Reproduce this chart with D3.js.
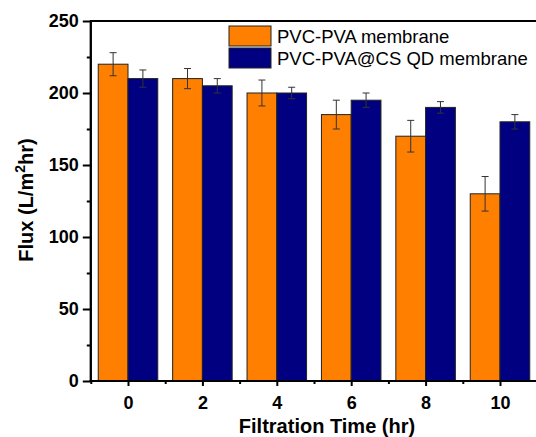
<!DOCTYPE html>
<html><head><meta charset="utf-8">
<script src="https://cdn.jsdelivr.net/npm/d3@7"></script>
<style>body{margin:0;background:#fff}svg{display:block}</style>
</head><body>
<script>
const categories = [0, 2, 4, 6, 8, 10];
const seriesNames = ["PVC-PVA membrane", "PVC-PVA@CS QD membrane"];
const pvcPva = [220, 210, 200, 185, 170, 130];
const pvcPvaErr = [8, 7, 9, 10, 11, 12];
const pvcCs = [210, 205, 200, 195, 190, 180];
const pvcCsErr = [6, 5, 4, 5, 4, 5];
const yTicks = [0, 50, 100, 150, 200, 250];
const yMinor = [25, 75, 125, 175, 225];
const xTicks = [0, 2, 4, 6, 8, 10];
const xMinor = [-1, 1, 3, 5, 7, 9];
const colors = ["#FF8000", "#000080"];

const W = 536, H = 437;
const font = "'Liberation Sans', Arial, sans-serif";
const svg = d3.select("body").append("svg").attr("width", W).attr("height", H);

const x = d3.scaleLinear().domain([-1, 11]).range([90.8, 537.2]);
const y = d3.scaleLinear().domain([0, 250]).range([381, 21]);
const barW = 0.8;

const series = [
  {vals: pvcPva, errs: pvcPvaErr, off: -barW, color: colors[0]},
  {vals: pvcCs, errs: pvcCsErr, off: 0, color: colors[1]}
];

const g = svg.append("g");
series.forEach(s => {
  g.selectAll(null).data(categories).enter().append("rect")
    .attr("x", (d) => x(d + s.off))
    .attr("width", (d) => x(d + s.off + barW) - x(d + s.off))
    .attr("y", (d, i) => y(s.vals[i]))
    .attr("height", (d, i) => y(0) - y(s.vals[i]))
    .attr("fill", s.color).attr("stroke", "#222").attr("stroke-width", 1);
});
series.forEach(s => {
  categories.forEach((c, i) => {
    const cx = x(c + s.off + barW / 2);
    const t = y(s.vals[i] + s.errs[i]), b = y(s.vals[i] - s.errs[i]);
    g.append("line").attr("x1", cx).attr("x2", cx).attr("y1", t).attr("y2", b).attr("stroke", "#333").attr("stroke-width", 1);
    [t, b].forEach(yy => g.append("line").attr("x1", cx - 3.5).attr("x2", cx + 3.5).attr("y1", yy).attr("y2", yy).attr("stroke", "#333").attr("stroke-width", 1));
  });
});

// axes
const yAxis = svg.append("g").attr("transform", `translate(${x(-1)},0)`)
  .call(d3.axisLeft(y).tickValues(yTicks).tickSize(8).tickPadding(4).tickFormat(d3.format("d")));
const yAxisMinor = svg.append("g").attr("transform", `translate(${x(-1)},0)`)
  .call(d3.axisLeft(y).tickValues(yMinor).tickSize(4).tickFormat(""));
const xAxis = svg.append("g").attr("transform", `translate(0,${y(0)})`)
  .call(d3.axisBottom(x).tickValues(xTicks).tickSize(5).tickPadding(10).tickFormat(d3.format("d")));
const xAxisMinor = svg.append("g").attr("transform", `translate(0,${y(0)})`)
  .call(d3.axisBottom(x).tickValues(xMinor).tickSize(3).tickFormat(""));
[yAxis, yAxisMinor, xAxis, xAxisMinor].forEach(a => {
  a.select(".domain").attr("stroke", "#000").attr("stroke-width", 2);
  a.selectAll(".tick line").attr("stroke", "#000").attr("stroke-width", 2);
  a.selectAll("text").attr("font-family", font).attr("font-weight", "bold").attr("font-size", "18px").attr("fill", "#000");
});
[yAxis, yAxisMinor].forEach(a => a.select(".domain").attr("d", `M0,${y(250)}V${y(0)}`));
[xAxis, xAxisMinor].forEach(a => a.select(".domain").attr("d", `M${x(-1) - 1},0H${W}`));
// top frame
svg.append("line").attr("x1", x(-1) - 1).attr("x2", W).attr("y1", y(250)).attr("y2", y(250)).attr("stroke", "#000").attr("stroke-width", 2);

// axis titles
svg.append("text").attr("x", 327).attr("y", 433).attr("text-anchor", "middle")
  .attr("font-family", font).attr("font-weight", "bold").attr("font-size", "20px").text("Filtration Time (hr)");
const yl = svg.append("text").attr("transform", "translate(33,200) rotate(-90)").attr("text-anchor", "middle")
  .attr("font-family", font).attr("font-weight", "bold").attr("font-size", "20px");
yl.append("tspan").text("Flux (L/m");
yl.append("tspan").attr("dy", -8).attr("font-size", "14px").text("2");
yl.append("tspan").attr("dy", 8).text("hr)");

// legend
const leg = svg.append("g");
seriesNames.forEach((n, i) => {
  leg.append("rect").attr("x", 229).attr("y", 26 + i * 22).attr("width", 42).attr("height", 20)
    .attr("fill", colors[i]).attr("stroke", "#222").attr("stroke-width", 1);
  leg.append("text").attr("x", 277).attr("y", 43 + i * 21.5).attr("font-family", font)
    .attr("font-size", "18.5px").attr("fill", "#000").text(n);
});
</script>
</body></html>
